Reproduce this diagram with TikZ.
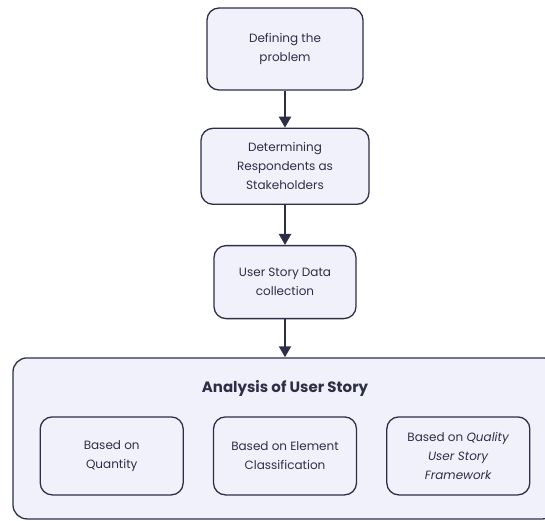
\documentclass[tikz,border=0pt]{standalone}
\usepackage{fontspec}
\setmainfont{Poppins}
\usetikzlibrary{arrows.meta, positioning}
\definecolor{boxfill}{HTML}{F1F1FB}
\definecolor{boxline}{HTML}{2E2E48}

\begin{document}
\begin{tikzpicture}[
every node/.append style = {inner sep=1.5pt, text=boxline},
node distance = 37pt and 29pt,
  stepbox/.style = {draw=boxline, fill=boxfill, line width=1.3pt,
                    rounded corners=12pt, align=center,
                    font=\fontsize{12}{19}\selectfont},
   subbox/.style = {stepbox, fill=none, minimum width=143pt,
                    minimum height=78pt},
      pil/.style = {line width=2.2pt, boxline,
                    -{Triangle[length=11pt,width=12pt]}}
                    ]
\useasboundingbox (0pt,0pt) rectangle (545pt,-520pt);
%nodes
\node (define)  [stepbox, minimum width=156pt, minimum height=82pt]
                at (285pt,-49pt)              {Defining the\\problem};
\node (respond) [stepbox, minimum width=168pt, minimum height=76pt,
                 below=of define]             {Determining\\Respondents as\\Stakeholders};
\node (collect) [stepbox, minimum width=142pt, minimum height=73pt,
                 below=40pt of respond]       {User Story Data\\collection};
%
\node (analysis)[stepbox, rounded corners=14pt, minimum width=544pt,
                 minimum height=161pt,
                 below=38pt of collect]       {};
\node (title)   [font=\fontsize{15}{18}\bfseries,
                 below=22pt of analysis.north] {Analysis of User Story};
\node (element) [subbox, above=24pt of analysis.south]
                                              {Based on Element\\Classification};
\node (quantity)[subbox, left=of element]     {Based on\\Quantity};
\node (frame)   [subbox, right=of element]    {Based on \textit{Quality}\\\textit{User Story}\\\textit{Framework}};
% edges
\draw[pil]  (define)  -- (respond);
\draw[pil]  (respond) -- (collect);
\draw[pil]  (collect) -- (analysis);
\end{tikzpicture}
\end{document}
